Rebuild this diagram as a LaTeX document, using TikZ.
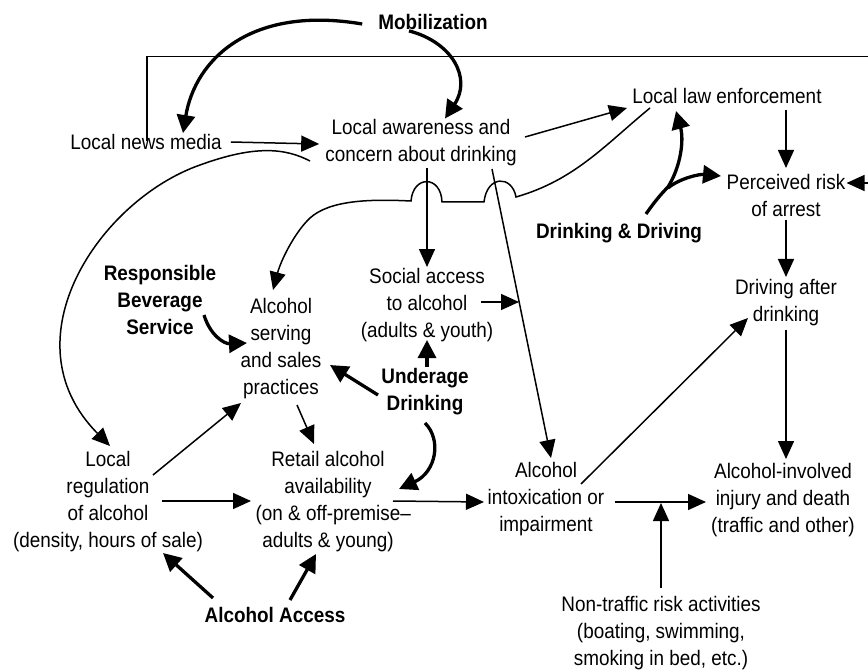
\documentclass[tikz,border=0pt]{standalone}
\usepackage{fontspec}
\setmainfont{Liberation Sans}[FakeStretch=0.9]
\usetikzlibrary{arrows.meta,calc}
\begin{document}
\begin{tikzpicture}[x=1pt,y=-1pt,
  lbl/.style={align=center,font=\fontsize{21}{27}\selectfont,inner sep=1pt},
  blbl/.style={align=center,font=\fontsize{21}{27}\selectfont\bfseries,inner sep=1pt},
  thinarr/.style={line width=1.5pt,-{Triangle[length=18pt,width=16pt]}},
  boldarr/.style={line width=3.3pt,-{Triangle[length=18pt,width=18pt]}},
  plain/.style={line width=1.5pt}]
\useasboundingbox (0,0) rectangle (868,671);

% nodes
\node[blbl] (mob) at (433,22) {Mobilization};
\node[lbl] (news) at (146,142) {Local news media};
\node[lbl] (aware) at (421,143) {Local awareness and\\concern about drinking};
\node[lbl] (law) at (727,96) {Local law enforcement};
\node[lbl] (risk) at (786,195) {Perceived risk\\of arrest};
\node[blbl] (dd) at (619,233) {Drinking \& Driving};
\node[blbl] (rbs) at (160,300) {Responsible\\Beverage\\Service};
\node[lbl] (serv) at (281,349) {Alcohol\\serving\\and sales\\practices};
\node[lbl] (social) at (427,305) {Social access\\to alcohol\\(adults \& youth)};
\node[blbl] (under) at (425,392) {Underage\\Drinking};
\node[lbl] (drive) at (786,303) {Driving after\\drinking};
\node[lbl] (reg) at (108,502) {Local\\regulation\\of alcohol\\(density, hours of sale)};
\node[lbl] (retail) at (328,502) {Retail alcohol\\availability\\(on \& off-premise\rlap{–}\\adults \& young)};
\node[lbl] (intox) at (546,499) {Alcohol\\intoxication or\\impairment};
\node[lbl] (injury) at (783,500) {Alcohol-involved\\injury and death\\(traffic and other)};
\node[lbl] (nontraffic) at (661,633) {Non-traffic risk activities\\(boating, swimming,\\smoking in bed, etc.)};
\node[blbl] (access) at (275,615) {Alcohol Access};

% Mobilization arrows
\draw[boldarr] ([xshift=-15pt,yshift=-2pt]mob.west) .. controls (250,5) and (195,60) .. ([xshift=37pt]news.north);
\draw[boldarr] ([xshift=-24pt]mob.south) .. controls (452,42) and (472,78) .. ([xshift=24pt]aware.north);

% feedback line from news media to perceived risk
\coordinate (topleft) at (147,56.5);
\coordinate (topright) at (868,56.5);
\coordinate (rightin) at (868,183);
\draw[plain] ([xshift=1pt,yshift=-8pt]news.north) -- (topleft) -- (topright);
\draw[thinarr] (rightin) -- (rightin -| risk.east);

% news -> awareness
\draw[thinarr] ([xshift=8pt]news.east) -- ([xshift=-5pt,yshift=-1pt]aware.west);

% awareness -> local regulation
\draw[thinarr] (310,161) .. controls (285,148) and (255,145) .. (200,165)
  .. controls (100,200) and (5,340) .. (110,446);

% law enforcement -> serving practices (with bridges)
\draw[thinarr] (650,108) .. controls (605,145) and (575,180) .. (516,197)
  .. controls (512,175) and (487,175) .. (484,202)
  -- (442,202)
  .. controls (441,175) and (413,175) .. (411,201)
  .. controls (370,199) and (330,200) .. (310,218)
  .. controls (295,232) and (281,260) .. (273,290);

% awareness -> law enforcement
\draw[thinarr] (525,137) -- (627,108);
% awareness -> social access
\draw[thinarr] (427,168) -- (social.north);
% awareness -> intoxication
\draw[thinarr] (492,169) -- (551,458);
% social access -> line
\draw[thinarr] (481,302) -- (519,302);

% law -> perceived risk
\draw[thinarr] (786,110) -- (786,168);
% Drinking & Driving
\draw[boldarr] (646,214) .. controls (655,201) and (662,193) .. (668,187)
  .. controls (681,166) and (684,140) .. (676,111);
\draw[boldarr] (668,188) .. controls (680,178) and (700,174) .. (721,176);
% risk -> driving
\draw[thinarr] (786,220) -- (786,277);
% driving -> injury
\draw[thinarr] (786,330) -- (786,459);
% intoxication -> driving
\draw[thinarr] (581,484) -- (748,318);
% intoxication -> injury
\draw[thinarr] (615,502) -- (706,502);
% non-traffic -> line
\draw[thinarr] (661,588) -- (661,503);

% RBS -> serving
\draw[boldarr] (204,315) .. controls (210,335) and (224,344) .. (247,343);
% Underage -> serving
\draw[boldarr] (378,395) -- (330,365);
% Underage -> social
\draw[boldarr] (427,367) -- (427,340);
% Underage -> retail
\draw[boldarr] (425,423) .. controls (442,440) and (436,472) .. (399,489);

% regulation -> serving
\draw[thinarr] (153,475) -- (241,403);
% regulation -> retail
\draw[thinarr] (162,501) -- (251,501);
% serving -> retail
\draw[thinarr] (297,405) -- (314,444);
% retail -> intoxication
\draw[thinarr] (393,501) -- (484,502);
% Alcohol access arrows
\draw[boldarr] (213,598) -- (163,553);
\draw[boldarr] (290,600) -- (316,554);
\end{tikzpicture}
\end{document}
